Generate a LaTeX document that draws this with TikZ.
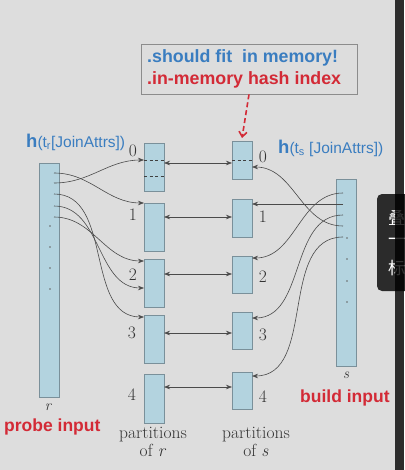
\documentclass[tikz,border=0pt]{standalone}
\usepackage{fontspec}
\newfontfamily\arial{Liberation Sans}
\newfontfamily\cjk{Noto Sans CJK SC}
\usetikzlibrary{arrows.meta}
\definecolor{bg}{HTML}{DDDDDD}
\definecolor{boxblue}{HTML}{B3D3DF}
\definecolor{boxline}{HTML}{7A909A}
\definecolor{txtblue}{HTML}{3A7DC0}
\definecolor{txtred}{HTML}{D32A36}
\definecolor{linegray}{HTML}{4A4A4A}
\definecolor{tipbg}{HTML}{2B2B2B}
\tikzset{
  part/.style={draw=boxline, fill=boxblue, line width=0.9pt, minimum width=20pt, inner sep=0pt, outer sep=0pt},
  conn/.style={draw=linegray, line width=0.6pt, -{Stealth[length=6pt,width=4.5pt]}},
  dbl/.style={draw=linegray, line width=0.6pt, {Stealth[length=6pt,width=4.5pt]}-{Stealth[length=6pt,width=4.5pt]}},
  num/.style={font=\fontsize{17.5}{17.5}\selectfont, text=black!80, inner sep=0pt},
  captext/.style={font=\fontsize{17.5}{18}\selectfont, text=black!80, align=center, inner sep=0pt},
  dashin/.style={draw=black!75, dashed, dash pattern=on 3pt off 2.5pt, line width=0.8pt},
  dotmark/.style={fill=black!60, circle, inner sep=0pt, minimum size=1.6pt},
  sanslbl/.style={font=\arial\fontsize{15.5}{18}\selectfont, text=txtblue, inner sep=0pt},
  redlbl/.style={font=\arial\bfseries\fontsize{17.5}{20}\selectfont, text=txtred, inner sep=0pt},
}
\begin{document}
\begin{tikzpicture}[x=1pt,y=-1pt]
\fill[bg] (0,0) rectangle (404,470);
\useasboundingbox (0,0) rectangle (404,470);

% memory box
\node[draw=black!45, line width=0.8pt, fill=bg, minimum width=216pt, minimum height=50pt, inner sep=0pt] (mem) at (249,69) {};
\node[anchor=west, font=\arial\bfseries\fontsize{17.8}{20}\selectfont, text=txtblue, inner sep=0pt] (m1) at (147,58) {.should fit\ \ in memory!};
\node[anchor=west, font=\arial\bfseries\fontsize{17.8}{20}\selectfont, text=txtred, inner sep=0pt] (m2) at (147,80) {.in-memory hash index};

% input columns
\node[part, minimum height=234pt] (r) at (49,280) {};
\node[part, minimum height=187pt] (s) at (346,272.5) {};

% partitions of r
\node[part, minimum height=48pt] (L0) at (154,167) {};
\node[part, minimum height=48pt] (L1) at (154,227) {};
\node[part, minimum height=48pt] (L2) at (154,283) {};
\node[part, minimum height=48pt] (L3) at (154,339) {};
\node[part, minimum height=49pt] (L4) at (154,398.5) {};
% partitions of s
\node[part, minimum height=38pt] (R0) at (242,160) {};
\node[part, minimum height=38pt] (R1) at (242,218) {};
\node[part, minimum height=37pt] (R2) at (242,274.5) {};
\node[part, minimum height=37pt] (R3) at (242,330.5) {};
\node[part, minimum height=37pt] (R4) at (242,390.5) {};

% dashed lines inside partition 0
\draw[dashin] ([yshift=7pt]L0.west) -- ([yshift=7pt]L0.east);
\draw[dashin] ([yshift=-9pt]L0.west) -- ([yshift=-9pt]L0.east);
\draw[dashin] (R0.west) -- (R0.east);

% dots
\foreach \y [count=\i] in {226,247,268,289} \node[dotmark] (rd\i) at (50,\y) {};
\foreach \y [count=\i] in {238,259,281,302} \node[dotmark] (sd\i) at (347,\y) {};

% numbers
\node[num] (nl0) at (133,151) {0};
\node[num] (nl1) at (133,215) {1};
\node[num] (nl2) at (133,275) {2};
\node[num] (nl3) at (132,333) {3};
\node[num] (nl4) at (132,395) {4};
\node[num] (nr0) at (263,157) {0};
\node[num] (nr1) at (263,217) {1};
\node[num] (nr2) at (263,277) {2};
\node[num] (nr3) at (263,335) {3};
\node[num] (nr4) at (263,397) {4};

% start points of hash lines
\coordinate (ra) at (54,173);
\coordinate (rb) at (54,183);
\coordinate (rc) at (54,194);
\coordinate (rdd) at (54,206);
\coordinate (re) at (54,217);
\coordinate (sa) at (343,193);
\coordinate (sb) at (343,204);
\coordinate (sc) at (343,215);
\coordinate (sdd) at (343,226);
\coordinate (se) at (343,237);

% r -> partitions
\draw[conn] (ra) to[out=0,in=180] ([yshift=24pt]L1.west);
\draw[conn] (rb) to[out=0,in=180] ([yshift=7pt]L0.west);
\draw[conn] (rc) to[out=0,in=180] ([yshift=22pt]L3.west);
\draw[conn] (rdd) to[out=0,in=180] ([yshift=-5pt]L2.west);
\draw[conn] (re) to[out=0,in=180] ([yshift=22pt]L2.west);

% s -> partitions
\draw[conn] (sa) to[out=180,in=0] ([yshift=16.5pt]R2.east);
\draw[conn] (sb) -- ([yshift=14pt]R1.east);
\draw[conn] (sc) to[out=180,in=0] ([yshift=12.5pt]R3.east);
\draw[conn] (sdd) to[out=180,in=0] ([yshift=-7pt]R0.east);
\draw[conn] (se) to[out=180,in=0] ([yshift=14.5pt]R4.east);

% partition pairs
\draw[dbl] ([yshift=4pt]L0.east) -- ([yshift=-3pt]R0.west);
\draw[dbl] ([yshift=10pt]L1.east) -- ([yshift=1pt]R1.west);
\draw[dbl] ([yshift=9pt]L2.east) -- ([yshift=0.5pt]R2.west);
\draw[dbl] ([yshift=6pt]L3.east) -- ([yshift=-2.5pt]R3.west);
\draw[dbl] ([yshift=11.5pt]L4.east) -- ([yshift=3.5pt]R4.west);

% memory arrow
\draw[txtred, line width=1.6pt, dash pattern=on 5pt off 3pt, -{Straight Barb[length=5pt,width=8pt]}] (mem.south) -- ([yshift=3pt]R0.north);

% labels
\node[sanslbl, anchor=west] (hr) at (26,142) {{\bfseries\fontsize{18.5}{18}\selectfont h}(t\textsubscript{r}[JoinAttrs])};
\node[sanslbl, anchor=west] (hs) at (278,148) {{\bfseries\fontsize{18.5}{18}\selectfont h}(t\textsubscript{s} [JoinAttrs])};
\node[num, font=\itshape\fontsize{15}{15}\selectfont] (rl) at (48,407) {r};
\node[num, font=\itshape\fontsize{15}{15}\selectfont] (sl) at (346,375) {s};
\node[redlbl, anchor=west] (probe) at (4,427) {probe input};
\node[redlbl, anchor=west] (build) at (300,398) {build input};
\node[captext] (pr) at (153,442) {partitions\\of \textit{r}};
\node[captext] (ps) at (256,442) {partitions\\of \textit{s}};

% screen overlay at right edge
\fill[tipbg, rounded corners=5pt] (377,194) rectangle (420,291);
\node[text=white, font=\cjk\fontsize{17}{17}\selectfont, anchor=west, inner sep=0pt] (t1) at (388,218) {叠};
\node[text=white, font=\cjk\fontsize{17}{17}\selectfont, anchor=west, inner sep=0pt] (t2) at (388,242) {一};
\node[text=white, font=\cjk\fontsize{17}{17}\selectfont, anchor=west, inner sep=0pt] (t3) at (388,268) {标};
\fill[black, opacity=0.8] (395,0) rectangle (404,470);
\end{tikzpicture}
\end{document}
